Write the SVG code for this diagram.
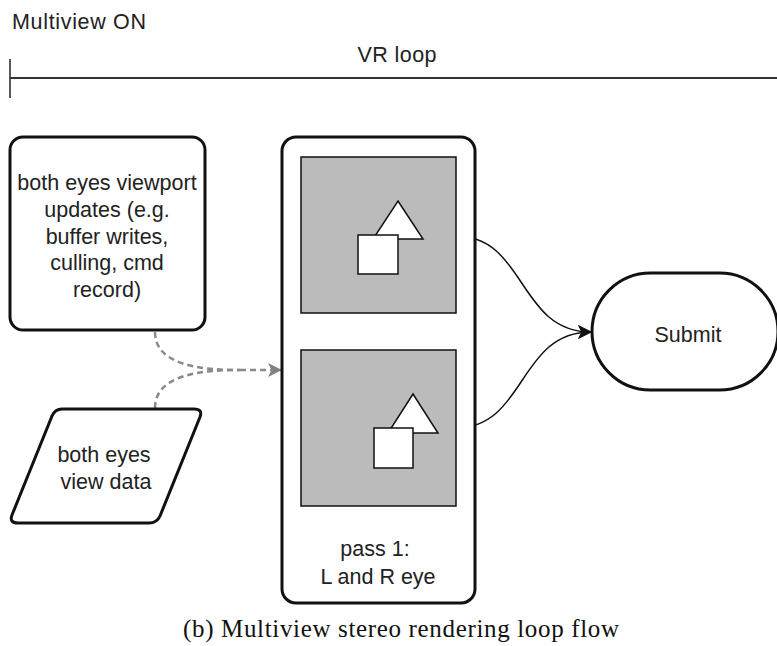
<svg xmlns="http://www.w3.org/2000/svg" width="777" height="646" viewBox="0 0 777 646">
  <style>
    .lbl { font-family: "Liberation Sans", "DejaVu Sans", sans-serif; font-size: 21.5px; fill: #222222; }
    .mid { text-anchor: middle; }
    .node { fill: #ffffff; stroke: #111111; stroke-width: 3; }
    .view { fill: #bbbbbb; stroke: #111111; stroke-width: 1.5; }
    .shape { fill: #ffffff; stroke: #111111; stroke-width: 1.5; }
    .flow { fill: none; stroke: #111111; stroke-width: 1.5; }
    .dep { fill: none; stroke: #8a8a8a; stroke-width: 2.5; stroke-dasharray: 6 4; }
    .caption { font-family: "Liberation Serif", "DejaVu Serif", serif; font-size: 25px; fill: #111111; }
  </style>
  <defs>
    <marker id="arrowBlack" viewBox="0 0 14 14" refX="13" refY="7" markerWidth="14" markerHeight="14" markerUnits="userSpaceOnUse" orient="auto">
      <path d="M0,0 L14,7 L0,14 L3.5,7 Z" fill="#111111"/>
    </marker>
    <marker id="arrowGray" viewBox="0 0 14 14" refX="13" refY="7" markerWidth="14" markerHeight="14" markerUnits="userSpaceOnUse" orient="auto">
      <path d="M0,0 L14,7 L0,14 L3.5,7 Z" fill="#808080"/>
    </marker>
  </defs>

  <!-- timeline header -->
  <g id="timeline">
    <text class="lbl" x="12" y="29" textLength="134" lengthAdjust="spacing">Multiview ON</text>
    <text class="lbl mid" x="397" y="62" textLength="79" lengthAdjust="spacing">VR loop</text>
    <line x1="10" y1="59" x2="10" y2="98" stroke="#222222" stroke-width="1.5"/>
    <line x1="10" y1="78" x2="777" y2="78" stroke="#333333" stroke-width="2"/>
  </g>

  <!-- connectors -->
  <g id="connectors">
    <path class="dep" d="M155,332 C155,365 200,370 240,370"/>
    <path class="dep" d="M155,408 C155,375 200,370 240,370"/>
    <path class="dep" d="M240,370 L281,370" marker-end="url(#arrowGray)"/>
    <path class="flow" d="M456,236 C526,236 518,332 591,332" marker-end="url(#arrowBlack)"/>
    <path class="flow" d="M456,428 C526,428 518,332 591,332" marker-end="url(#arrowBlack)"/>
  </g>

  <g id="viewport-updates">
    <rect class="node" x="10" y="137" width="195" height="193" rx="13"/>
    <text class="lbl mid" x="107" y="190">both eyes viewport</text>
    <text class="lbl mid" x="107" y="217">updates (e.g.</text>
    <text class="lbl mid" x="107" y="244">buffer writes,</text>
    <text class="lbl mid" x="107" y="270">culling, cmd</text>
    <text class="lbl mid" x="107" y="297">record)</text>
  </g>

  <g id="view-data">
    <path class="node" d="M62,409 L194,409 Q203,409 200,417 L160,516 Q157,523 149,523 L18,523 Q9,523 12,515 L52,416 Q55,409 62,409 Z"/>
    <text class="lbl mid" x="104" y="462">both eyes</text>
    <text class="lbl mid" x="106" y="489">view data</text>
  </g>

  <g id="render-pass">
    <rect class="node" x="282" y="137" width="193" height="466" rx="14"/>
    <rect class="view" x="301" y="157" width="155" height="156"/>
    <polygon class="shape" points="398,201 423,239 373,239"/>
    <rect class="shape" x="358" y="235" width="40" height="39"/>
    <rect class="view" x="301" y="350" width="155" height="156"/>
    <polygon class="shape" points="413,394 438,433 388,433"/>
    <rect class="shape" x="374" y="428" width="39" height="40"/>
    <text class="lbl mid" x="375" y="556">pass 1:</text>
    <text class="lbl mid" x="378" y="584">L and R eye</text>
  </g>

  <g id="submit">
    <rect class="node" x="592" y="273" width="186" height="117" rx="58.5"/>
    <text class="lbl mid" x="688" y="342">Submit</text>
  </g>

  <text class="caption mid" x="401" y="637" textLength="436" lengthAdjust="spacing">(b) Multiview stereo rendering loop flow</text>
</svg>
